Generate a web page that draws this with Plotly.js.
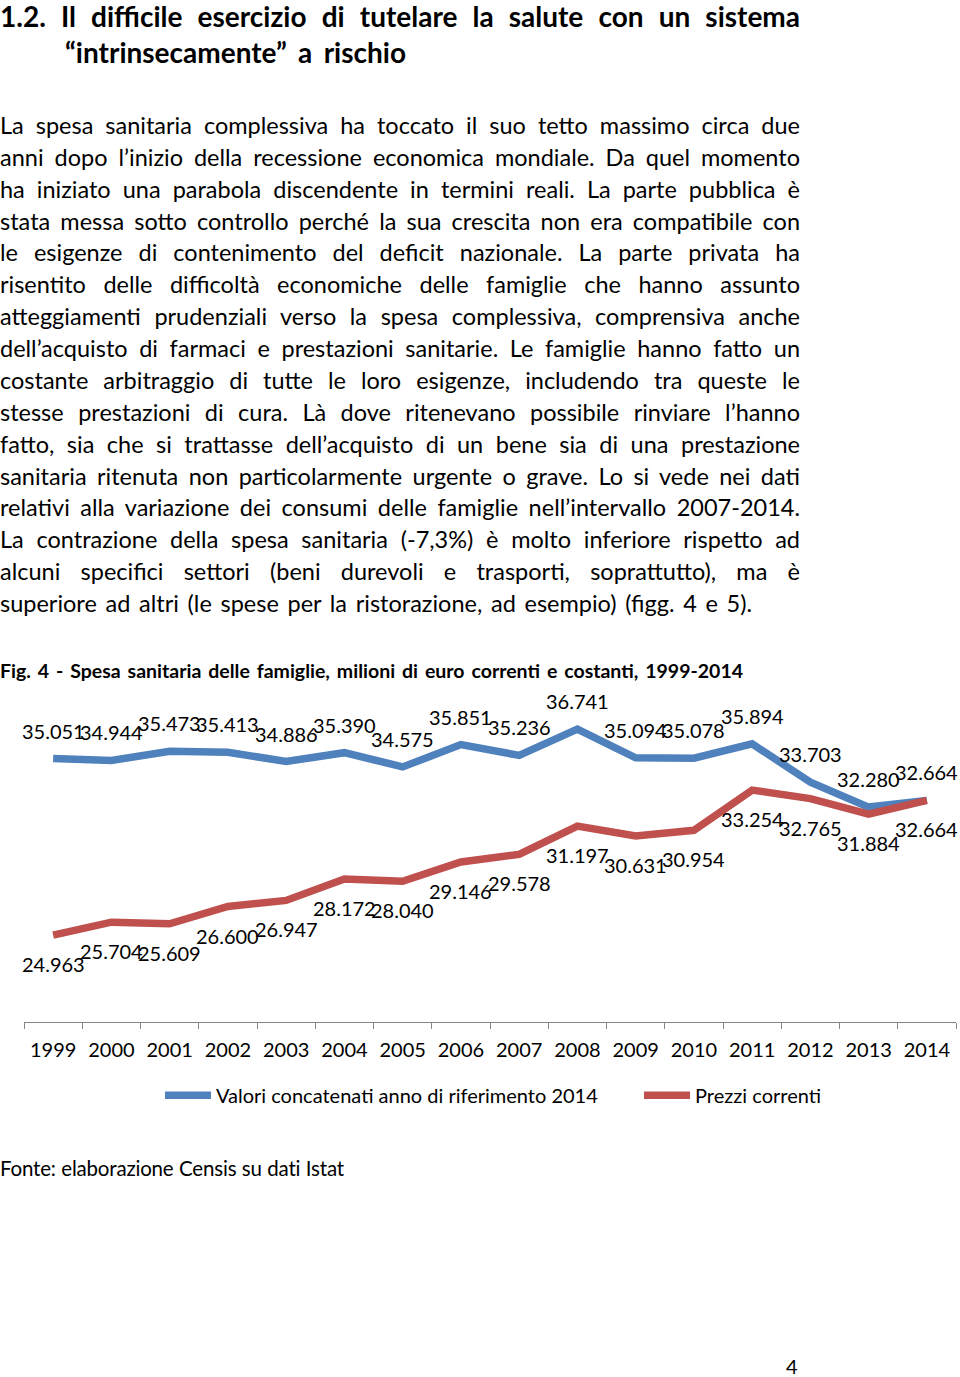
<!DOCTYPE html>
<html>
<head>
<meta charset="utf-8">
<script src="https://cdn.plot.ly/plotly-3.0.1.min.js"></script>
<style>
  html, body { margin:0; padding:0; background:#fff; }
  body { width:960px; height:1377px; position:relative; overflow:hidden; color:#000; font-family: Lato, "Open Sans", sans-serif; }
  .ln { position:absolute; white-space:normal; overflow:hidden; text-align:justify; text-align-last:justify; z-index:2; }
  .ln.left { text-align:left; text-align-last:left; }
  #chart { position:absolute; left:0; top:640px; width:960px; height:520px; z-index:1; }
</style>
</head>
<body>
<div id="chart"></div>
<script>
// ---------------- DATA ----------------
const years = ['1999','2000','2001','2002','2003','2004','2005','2006','2007','2008','2009','2010','2011','2012','2013','2014'];
const realValues = [35.051,34.944,35.473,35.413,34.886,35.390,34.575,35.851,35.236,36.741,35.094,35.078,35.894,33.703,32.280,32.664];
const currentPrices = [24.963,25.704,25.609,26.600,26.947,28.172,28.040,29.146,29.578,31.197,30.631,30.954,33.254,32.765,31.884,32.664];
const seriesNames = ['Valori concatenati anno di riferimento 2014','Prezzi correnti'];

const titleLines = ['1.2. Il difficile esercizio di tutelare la salute con un sistema', '\u201Cintrinsecamente\u201D a rischio'];
const bodyLines = [
  'La spesa sanitaria complessiva ha toccato il suo tetto massimo circa due',
  'anni dopo l\u2019inizio della recessione economica mondiale. Da quel momento',
  'ha iniziato una parabola discendente in termini reali. La parte pubblica \u00E8',
  'stata messa sotto controllo perch\u00E9 la sua crescita non era compatibile con',
  'le esigenze di contenimento del deficit nazionale. La parte privata ha',
  'risentito delle difficolt\u00E0 economiche delle famiglie che hanno assunto',
  'atteggiamenti prudenziali verso la spesa complessiva, comprensiva anche',
  'dell\u2019acquisto di farmaci e prestazioni sanitarie. Le famiglie hanno fatto un',
  'costante arbitraggio di tutte le loro esigenze, includendo tra queste le',
  'stesse prestazioni di cura. L\u00E0 dove ritenevano possibile rinviare l\u2019hanno',
  'fatto, sia che si trattasse dell\u2019acquisto di un bene sia di una prestazione',
  'sanitaria ritenuta non particolarmente urgente o grave. Lo si vede nei dati',
  'relativi alla variazione dei consumi delle famiglie nell\u2019intervallo 2007-2014.',
  'La contrazione della spesa sanitaria (-7,3%) \u00E8 molto inferiore rispetto ad',
  'alcuni specifici settori (beni durevoli e trasporti, soprattutto), ma \u00E8',
  'superiore ad altri (le spese per la ristorazione, ad esempio) (figg. 4 e 5).'
];
const captionText = 'Fig. 4 - Spesa sanitaria delle famiglie, milioni di euro correnti e costanti, 1999-2014';
const sourceText = 'Fonte: elaborazione Censis su dati Istat';
const pageNumber = '4';

// ---------------- TEXT LAYOUT ----------------
const FAMILY = 'Lato, "Open Sans", sans-serif';
const ctx = document.createElement('canvas').getContext('2d');
function naturalAt(t, weight, size){ ctx.font = weight + ' ' + size + 'px ' + FAMILY; return ctx.measureText(t).width; }
function placeLine(it, weight, size){
  const d = document.createElement('div');
  d.className = 'ln' + (it.justify === false ? ' left' : '');
  const h = 36;
  d.style.left = it.x + 'px';
  d.style.top = (it.y - h/2) + 'px';
  d.style.width = it.w + 'px';
  d.style.height = h + 'px';
  d.style.lineHeight = h + 'px';
  d.style.fontSize = size + 'px';
  d.style.fontWeight = weight;
  if (it.justify !== false) {
    const nat = naturalAt(it.t, weight, size);
    if (nat > it.w - 1) {
      const ls = (it.w - 2 - nat) / it.t.length;
      d.style.letterSpacing = ls.toFixed(3) + 'px';
    }
  }
  d.textContent = it.t;
  document.body.appendChild(d);
}
placeLine({t:titleLines[0], x:0, y:16, w:800}, 'bold', 28);
placeLine({t:titleLines[1], x:65, y:52, w:341}, 'bold', 28);
bodyLines.forEach((t,i) => placeLine({t:t, x:0, y:125 + i*31.87, w: i === bodyLines.length-1 ? 752 : 800}, 'normal', 23.5));
placeLine({t:captionText, x:0, y:671, w:743}, 'bold', 19.5);
placeLine({t:sourceText, x:0, y:1168, w:344}, 'normal', 20.5);
placeLine({t:pageNumber, x:786, y:1366, w:40, justify:false}, 'normal', 20);

// ---------------- CHART ----------------
const BLUE = '#4F81BD', RED = '#C0504D';
const traces = [
  {x: years, y: realValues, type:'scatter', mode:'lines', name: seriesNames[0], legend:'legend',
   line:{color:BLUE, width:7.5}, hoverinfo:'skip'},
  {x: years, y: currentPrices, type:'scatter', mode:'lines', name: seriesNames[1], legend:'legend2',
   line:{color:RED, width:7.5}, hoverinfo:'skip'}
];
const labelFont = {family: FAMILY, size:20, color:'#000'};
const annotations = [];
years.forEach((yr, i) => {
  annotations.push({x: i, y: realValues[i], xref:'x', yref:'y', text: realValues[i].toFixed(3),
    showarrow:false, yshift:28, font: labelFont});
  annotations.push({x: i, y: currentPrices[i], xref:'x', yref:'y', text: currentPrices[i].toFixed(3),
    showarrow:false, yshift:-29, font: labelFont});
});
const legendFont = {family: FAMILY, size:20, color:'#000'};
const layout = {
  width:960, height:520,
  margin:{l:24, r:4, t:32, b:138},
  paper_bgcolor:'rgba(0,0,0,0)', plot_bgcolor:'rgba(0,0,0,0)',
  font:{family: FAMILY, size:20, color:'#000'},
  xaxis:{type:'category', range:[-0.5, 15.5], tickson:'boundaries', ticks:'outside', ticklen:6,
    tickcolor:'#868686', tickwidth:1, showline:true, linecolor:'#868686', linewidth:1,
    showgrid:false, zeroline:false, fixedrange:true, ticklabelstandoff:10,
    tickfont:{family: FAMILY, size:20, color:'#000'}},
  yaxis:{range:[20, 40], visible:false, fixedrange:true, showgrid:false, zeroline:false},
  showlegend:true,
  legend:{orientation:'h', x:0.1459, xanchor:'left', y:-0.209, yanchor:'middle', itemwidth:46,
    font:legendFont, bgcolor:'rgba(0,0,0,0)'},
  legend2:{orientation:'h', x:0.6599, xanchor:'left', y:-0.209, yanchor:'middle', itemwidth:46,
    font:legendFont, bgcolor:'rgba(0,0,0,0)'},
  annotations: annotations
};
Plotly.newPlot('chart', traces, layout, {displayModeBar:false, staticPlot:true});
</script>
</body>
</html>
